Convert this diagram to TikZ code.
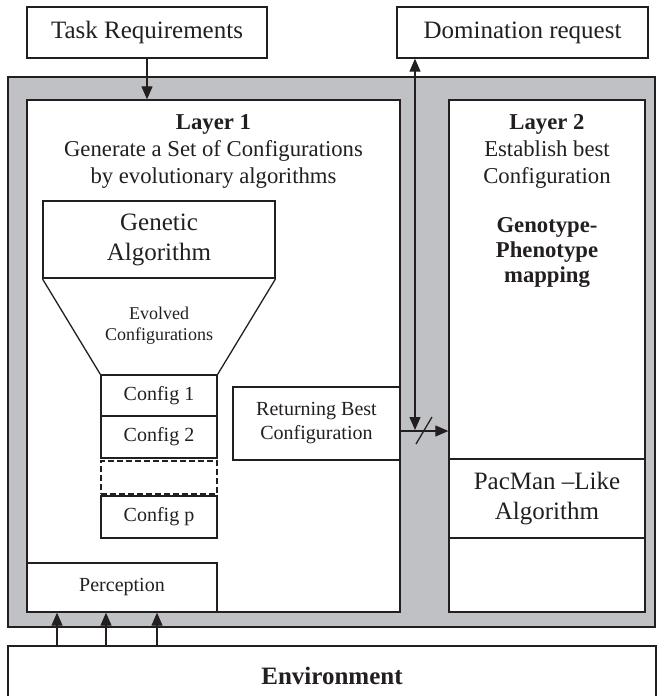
\documentclass[tikz,border=0pt]{standalone}
\usepackage{fontspec}
\setmainfont{Liberation Serif}
\usetikzlibrary{arrows.meta,calc}
\definecolor{panel}{RGB}{192,193,197}
\definecolor{ink}{RGB}{35,31,32}
\newcommand\fTop{\fontsize{25}{30}\selectfont}
\newcommand\fBig{\fontsize{25}{30}\selectfont}
\newcommand\fLay{\fontsize{22.7}{27}\selectfont}
\newcommand\fGen{\fontsize{22.7}{25}\selectfont}
\newcommand\fMid{\fontsize{20}{24}\selectfont}
\newcommand\fSmall{\fontsize{18}{21}\selectfont}
\newcommand\fEnv{\fontsize{25}{30}\selectfont\bfseries}
\begin{document}
\begin{tikzpicture}[x=1pt,y=-1pt,
  box/.style={draw=ink, line width=1.3pt, fill=white, inner sep=0pt, align=center, text=ink},
  txt/.style={inner sep=0pt, align=center, text=ink},
  arr/.style={draw=ink, line width=1.2pt, -{Triangle[length=13pt,width=11pt]}},
  darr/.style={draw=ink, line width=1.2pt, {Triangle[length=13pt,width=11pt]}-{Triangle[length=13pt,width=11pt]}},
  ln/.style={draw=ink, line width=1.3pt}]
\useasboundingbox (0,0) rectangle (656,696);
% agent panel
\node[box, fill=panel, line width=1.8pt, minimum width=647, minimum height=550] (agent) at (331.5,352) {};
\node[box, minimum width=373, minimum height=512] (layer1) at (213.5,356) {};
\node[box, minimum width=196, minimum height=512] (layer2) at (547,356) {};
% top boxes
\node[box, minimum width=240, minimum height=51, font=\fTop] (task) at (147,32.5) {Task Requirements};
\node[box, minimum width=251, minimum height=51, font=\fTop] (dom) at (522.5,32.5) {Domination request};
% environment
\node[box, minimum width=648, minimum height=60, font=\fEnv] (env) at (332,676) {Environment};
% layer texts
\node[txt, font=\fLay] (l1text) at (213.5,151) {\textbf{Layer 1}\\Generate a Set of Configurations\\by evolutionary algorithms};
\node[txt, font=\fLay] (l2text) at (547,151) {\textbf{Layer 2}\\Establish best\\Configuration};
\node[txt, font=\fGen\bfseries] (gptext) at (547,252) {Genotype-\\Phenotype\\mapping};
% genetic algorithm funnel
\node[box, minimum width=232, minimum height=77, font=\fBig] (ga) at (159,239.5) {Genetic\\Algorithm};
\node[box, minimum width=116, minimum height=41, font=\fMid] (c1) at (159,395.5) {Config 1};
\node[box, minimum width=116, minimum height=42, font=\fMid] (c2) at (159,437) {Config 2};
\node[box, dash pattern=on 6pt off 3pt, minimum width=116, minimum height=33] (cdots) at (159,477.5) {};
\node[box, minimum width=116, minimum height=42, font=\fMid] (cp) at (159,517) {Config p};
\draw[ln] (ga.south west) -- (c1.north west);
\draw[ln] (ga.south east) -- (c1.north east);
\node[txt, font=\fSmall] (evo) at (159,326) {Evolved\\Configurations};
% returning, pacman, perception
\node[box, minimum width=167, minimum height=73, font=\fMid] (ret) at (316.5,423.5) {Returning Best\\Configuration};
\node[box, minimum width=196, minimum height=79, font=\fBig] (pac) at (547,498.5) {PacMan –Like\\Algorithm};
\node[box, minimum width=190, minimum height=49, font=\fMid] (perc) at (122,587.5) {Perception};
% connectors
\draw[arr] (task.south) -- (task.south |- layer1.north);
\coordinate (vb) at (415,430);
\draw[darr] (vb |- dom.south) -- (vb);
\coordinate (hs) at (400,431);
\draw[arr] (hs) -- (hs -| layer2.west);
\coordinate (s1) at (416,444);
\coordinate (s2) at (432,417);
\draw[ln] (s1) -- (s2);
\foreach \x/\n in {57/a,106/b,157/c} {
  \coordinate (p\n) at (\x,0);
  \draw[arr] (p\n |- env.north) -- (p\n |- layer1.south);
}
\end{tikzpicture}
\end{document}
